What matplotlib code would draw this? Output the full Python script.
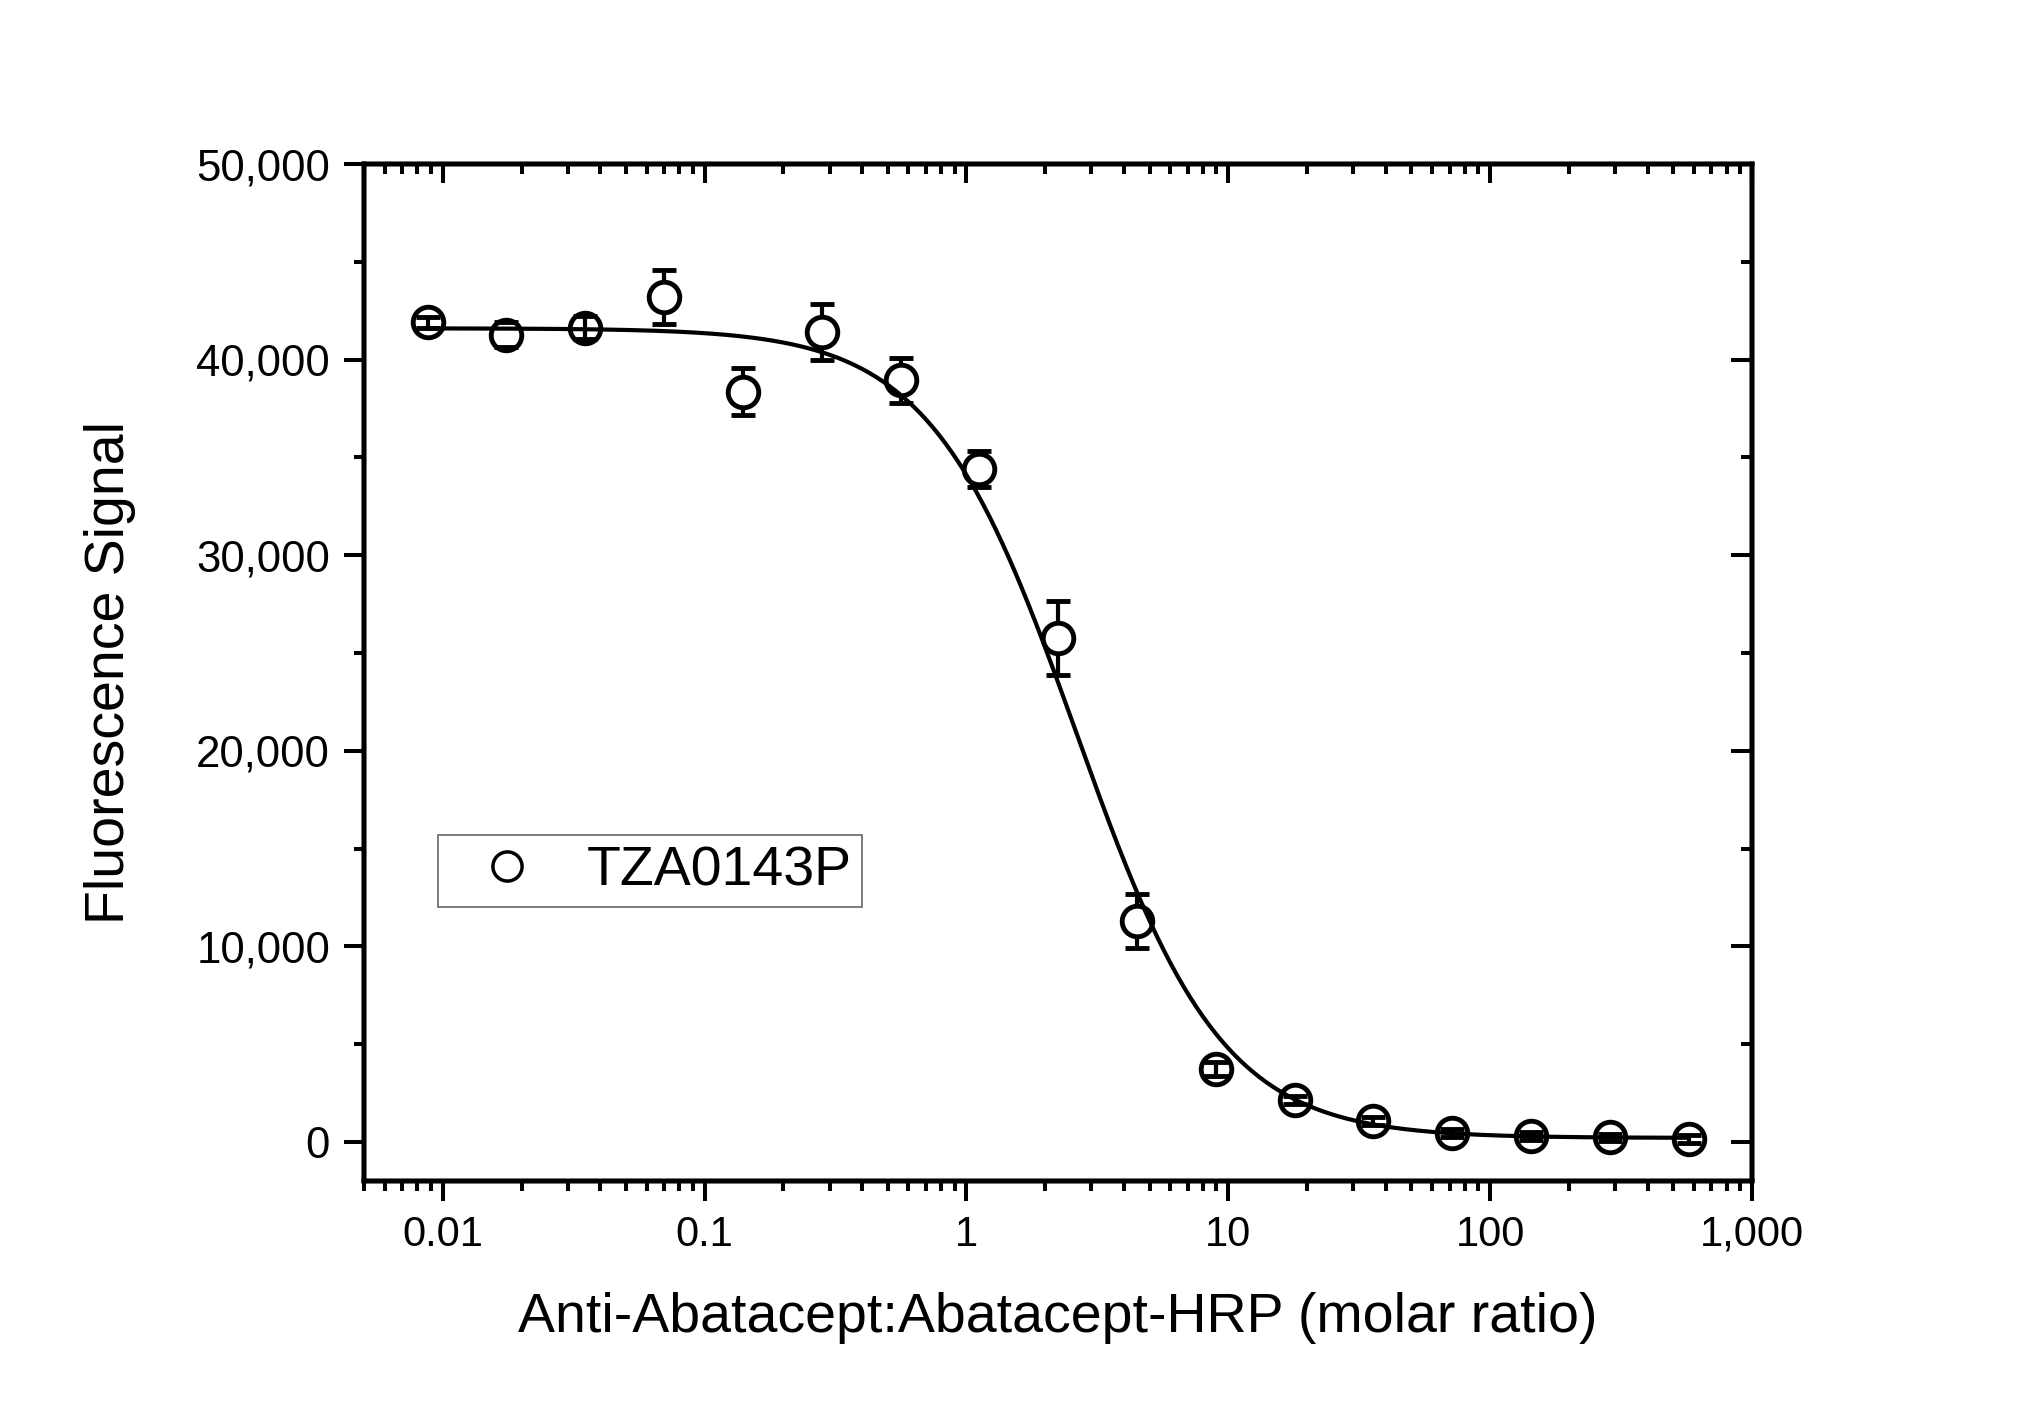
import numpy as np
import matplotlib
matplotlib.use("Agg")
import matplotlib.pyplot as plt
from matplotlib.lines import Line2D
from matplotlib.ticker import FixedLocator, FixedFormatter, LogLocator, NullFormatter, MultipleLocator

plt.rcParams['font.family'] = ['Liberation Sans', 'DejaVu Sans']

# ---- data ----
ratio = [0.00875, 0.0175, 0.035, 0.07, 0.14, 0.28, 0.56, 1.12, 2.24, 4.48,
         8.96, 17.92, 35.84, 71.68, 143.36, 286.72, 573.44]
signal = [41900, 41280, 41640, 43190, 38350, 41400, 38940, 34400, 25760, 11290,
          3720, 2135, 1060, 460, 307, 225, 138]
signal_err = [300, 650, 600, 1380, 1195, 1420, 1140, 900, 1890, 1400,
              340, 220, 220, 200, 200, 200, 200]
series_name = "TZA0143P"

# fitted 4-parameter logistic curve parameters
fit_top = 41600
fit_bottom = 200
fit_ec50 = 2.63
fit_hill = 1.56

x_ticks = [0.01, 0.1, 1, 10, 100, 1000]
x_ticklabels = ["0.01", "0.1", "1", "10", "100", "1,000"]
y_ticks = [0, 10000, 20000, 30000, 40000, 50000]
y_ticklabels = ["0", "10,000", "20,000", "30,000", "40,000", "50,000"]

x_label = "Anti-Abatacept:Abatacept-HRP (molar ratio)"
y_label = "Fluorescence Signal"

# ---- figure ----
W, H = 2034, 1417
fig = plt.figure(figsize=(W / 100, H / 100), dpi=100)
L, R, T, B = 364, 1752, 164, 1181
ax = fig.add_axes([L / W, 1 - B / H, (R - L) / W, (B - T) / H])

ax.set_xscale('log')
xlim = (0.005, 1000)
ylim = (-2000, 50000)

# curve
xc = np.logspace(np.log10(ratio[0]), np.log10(ratio[-1]), 600)
yc = fit_bottom + (fit_top - fit_bottom) / (1 + (xc / fit_ec50) ** fit_hill)

xa = np.array(ratio)
ya = np.array(signal)
ea = np.array(signal_err)
small = ea < 650  # bars that sit inside the marker are drawn over it

eb = ax.errorbar(xa[~small], ya[~small], yerr=ea[~small], fmt='none', ecolor='black',
                 elinewidth=3, capsize=8.5, capthick=3.5, zorder=2)
for cl in eb[1]:
    cl.set_zorder(5)
ax.errorbar(xa[small], ya[small], yerr=ea[small], fmt='none', ecolor='black',
            elinewidth=3, capsize=8.5, capthick=3.5, zorder=5)
ax.plot(ratio, signal, linestyle='none', marker='o', ms=22, mfc='white',
        mec='black', mew=3.5, zorder=3)
ax.plot(xc, yc, color='black', lw=3, zorder=4)

ax.set_xlim(*xlim)
ax.set_ylim(*ylim)

tick_fs = 30
lab_fs = 40
spine_w = 3.2
tw = 2.9

for s in ax.spines.values():
    s.set_linewidth(spine_w)

ax.xaxis.set_major_locator(FixedLocator(x_ticks))
ax.xaxis.set_major_formatter(FixedFormatter(x_ticklabels))
ax.xaxis.set_minor_locator(LogLocator(base=10, subs=np.arange(2, 10), numticks=20))
ax.xaxis.set_minor_formatter(NullFormatter())
ax.yaxis.set_major_locator(FixedLocator(y_ticks))
ax.yaxis.set_major_formatter(FixedFormatter(y_ticklabels))
ax.yaxis.set_minor_locator(MultipleLocator(5000))

ax.tick_params(which='major', direction='out', length=14.4, width=tw,
               labelsize=tick_fs, pad=10)
ax.tick_params(axis='y', which='major', labelsize=31.5)
ax.tick_params(which='minor', direction='out', length=7.2, width=tw)

# top and right axes with inward ticks
axt = ax.twiny()
axt.set_xscale('log')
axt.set_xlim(*xlim)
axt.xaxis.set_major_locator(FixedLocator(x_ticks))
axt.xaxis.set_minor_locator(LogLocator(base=10, subs=np.arange(2, 10), numticks=20))
axt.xaxis.set_major_formatter(NullFormatter())
axt.xaxis.set_minor_formatter(NullFormatter())
axt.tick_params(which='major', direction='in', length=14, width=tw)
axt.tick_params(which='minor', direction='in', length=7, width=tw)
for s in axt.spines.values():
    s.set_linewidth(spine_w)

axr = ax.twinx()
axr.set_ylim(*ylim)
axr.yaxis.set_major_locator(FixedLocator(y_ticks))
axr.yaxis.set_minor_locator(MultipleLocator(5000))
axr.yaxis.set_major_formatter(NullFormatter())
axr.tick_params(which='major', direction='in', length=15, width=tw)
axr.tick_params(which='minor', direction='in', length=8, width=tw)
for s in axr.spines.values():
    s.set_linewidth(spine_w)

ax.set_xlabel(x_label, fontsize=lab_fs)
ax.set_ylabel(y_label, fontsize=lab_fs)
ax.xaxis.set_label_coords(0.5, -0.109)
ax.yaxis.set_label_coords(-0.164, 0.5)

handle = Line2D([], [], linestyle='none', marker='o', ms=21, mfc='none',
                mec='black', mew=2.5)
leg = ax.legend([handle], [series_name], loc='lower left',
                bbox_to_anchor=(0.0533, 0.269), borderaxespad=0,
                fontsize=lab_fs, frameon=True, fancybox=False,
                borderpad=0.18, handlelength=2.12, handletextpad=0.38,
                edgecolor='#404040')
leg.get_frame().set_linewidth(1.2)
leg.set_zorder(10)

fig.savefig("out.png", dpi=100)
